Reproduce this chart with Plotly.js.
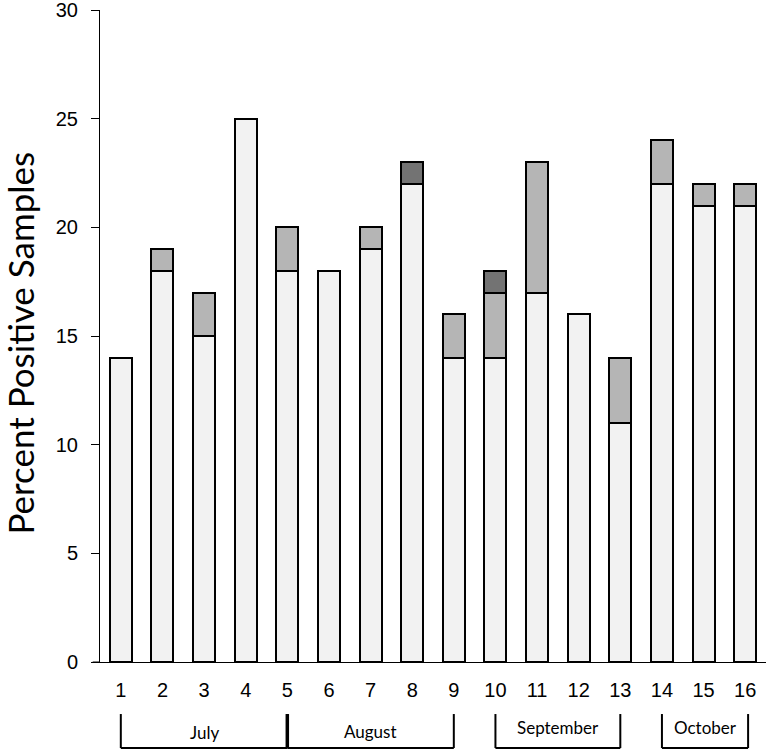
<!DOCTYPE html>
<html>
<head>
<meta charset="utf-8">
<script src="https://cdn.plot.ly/plotly-3.0.1.min.js"></script>
<style>body{margin:0;padding:0;background:#fff;}#chart{width:766px;height:750px;}</style>
</head>
<body>
<div id="chart"></div>
<script>
const categories = [1,2,3,4,5,6,7,8,9,10,11,12,13,14,15,16];
const seriesLight  = [14,18,15,25,18,18,19,22,14,14,17,16,11,22,21,21];
const seriesMedium = [0,1,2,0,2,0,1,0,2,3,6,0,3,2,1,1];
const seriesDark   = [0,0,0,0,0,0,0,1,0,1,0,0,0,0,0,0];
const yTicks = [0,5,10,15,20,25,30];
const months = [
  {name:"July", start:1, end:5},
  {name:"August", start:5, end:9},
  {name:"September", start:10, end:13},
  {name:"October", start:14, end:16.07}
];

const lineStyle = {color:'#000', width:2};
function bar(vals, color){
  // zero-height segments are left out so that they draw no outline
  return {type:'bar', x:categories, y:vals.map(v => v === 0 ? null : v), width:0.53,
    marker:{color:color, line:lineStyle}, hoverinfo:'y', showlegend:false};
}
const data = [bar(seriesLight,'#f2f2f2'), bar(seriesMedium,'#b5b5b5'), bar(seriesDark,'#737373')];

const yTop = -0.0798, yBot = -0.1319;
const textY = [-0.1074, -0.1059, -0.1012, -0.0997];
const shapes = [];
const annotations = [];
months.forEach((m,i)=>{
  shapes.push({type:'line', xref:'x', yref:'paper', x0:m.start, x1:m.start, y0:yTop, y1:yBot, line:{color:'#000', width:(i===1?3.5:2)}});
  shapes.push({type:'line', xref:'x', yref:'paper', x0:m.end, x1:m.end, y0:yTop, y1:yBot, line:{color:'#000', width:2}});
  shapes.push({type:'line', xref:'x', yref:'paper', x0:m.start, x1:m.end, y0:yBot, y1:yBot, line:{color:'#000', width:2}});
  annotations.push({xref:'x', yref:'paper', x:(m.start+m.end)/2, y:textY[i], xanchor:'center', yanchor:'middle',
    text:m.name, showarrow:false, font:{family:'Lato, Open Sans, sans-serif', size:17, color:'#000'}});
});
// x-axis line extension left of y-axis
shapes.push({type:'line', xref:'paper', yref:'paper', x0:-0.011, x1:0, y0:0, y1:0, line:{color:'#000', width:1}});

annotations.push({xref:'paper', yref:'paper', x:-0.12, y:0.4885, xanchor:'center', yanchor:'middle', textangle:-90,
  text:'Percent Positive Samples', showarrow:false,
  font:{family:'Lato, Open Sans, sans-serif', size:35, color:'#000'}});

const layout = {
  width:766, height:750,
  margin:{l:100, r:0, t:10, b:88},
  paper_bgcolor:'#fff', plot_bgcolor:'#fff',
  barmode:'stack',
  font:{family:'Liberation Sans, Arial, sans-serif', color:'#000'},
  xaxis:{range:[0.5,16.5], tickvals:categories, ticktext:categories.map(String),
    showline:true, linecolor:'#000', linewidth:1, ticks:'', showgrid:false, zeroline:false,
    tickfont:{size:20, color:'#000'}, ticklabelstandoff:10, fixedrange:true},
  yaxis:{range:[0,30], tickvals:yTicks, showline:true, linecolor:'#000', linewidth:1,
    ticks:'outside', ticklen:8, tickwidth:1, tickcolor:'#000', showgrid:false, zeroline:false,
    tickfont:{size:20, color:'#000'}, ticklabelstandoff:9, ticklabeloverflow:'allow', fixedrange:true},
  shapes:shapes, annotations:annotations
};
Plotly.newPlot('chart', data, layout, {displayModeBar:false, staticPlot:true});
</script>
</body>
</html>
